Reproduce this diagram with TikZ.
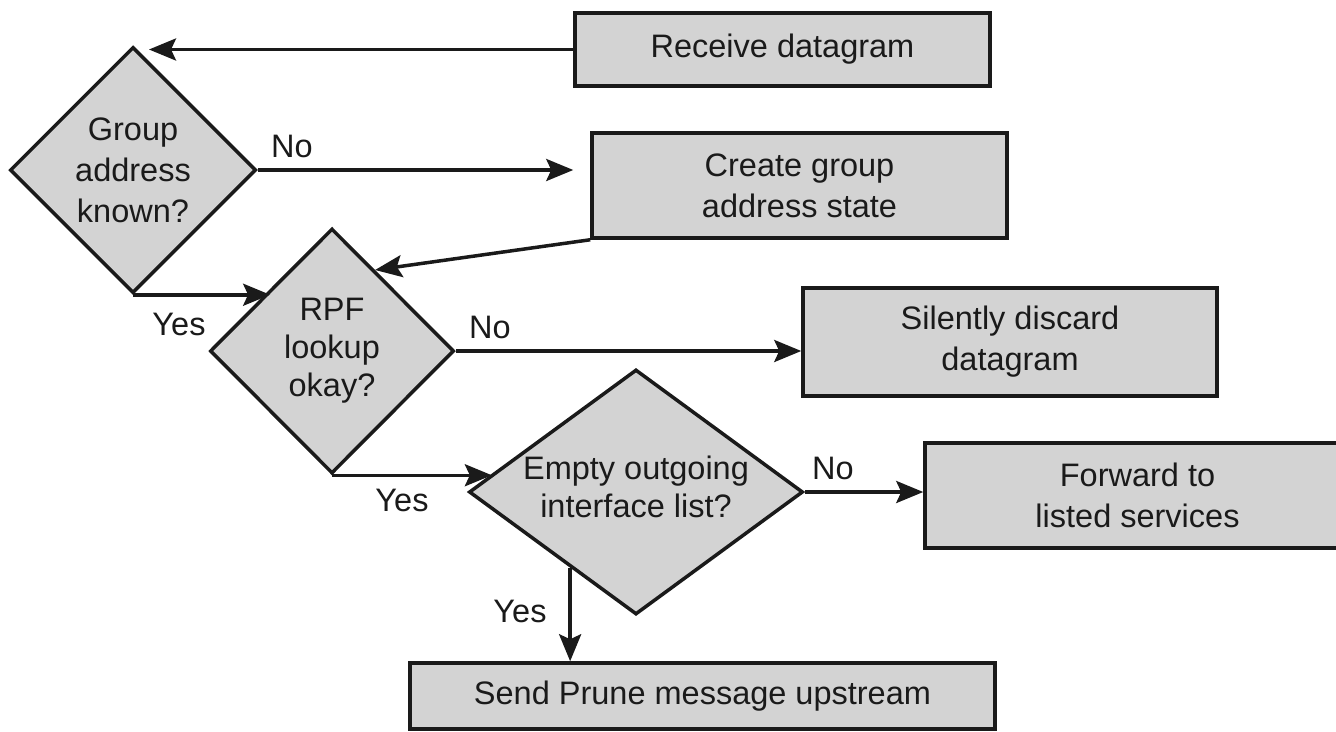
\documentclass[tikz,border=0pt]{standalone}
\usepackage{fontspec}
\setmainfont{Liberation Sans}
\usetikzlibrary{shapes.geometric,arrows.meta}

\definecolor{boxfill}{RGB}{211,211,211}
\definecolor{ink}{RGB}{26,26,26}

\tikzset{
  every node/.style={text=ink, font=\fontsize{32.5}{41}\selectfont},
  stepbox/.style={draw=ink, fill=boxfill, line width=3.5pt, rectangle,
    inner sep=0pt, align=center},
  decision/.style={draw=ink, fill=boxfill, line width=3.5pt, diamond,
    inner sep=0pt},
  qtext/.style={align=center, inner sep=0pt},
  lbl/.style={inner sep=0pt},
  arr/.style={draw=ink, line width=3.5pt,
    -{Stealth[length=27pt,width=22pt,inset=5pt]}},
}

\begin{document}
\begin{tikzpicture}[x=1pt,y=-1pt]
  \useasboundingbox[fill=white] (0,0) rectangle (1336,731);

  % process boxes
  \node[stepbox, minimum width=415pt, minimum height=73pt]  (recv)    at (782.5,49.5)  {Receive datagram};
  \node[stepbox, minimum width=415pt, minimum height=105pt] (create)  at (799.5,185.5) {Create group\\address state};
  \node[stepbox, minimum width=414pt, minimum height=108pt] (discard) at (1010,342)    {Silently discard\\datagram};
  \node[stepbox, minimum width=425pt, minimum height=105pt] (fwd)     at (1137.5,495.5){Forward to\\listed services};
  \node[stepbox, minimum width=585pt, minimum height=66pt]  (prune)   at (702.5,696)   {Send Prune message upstream};

  % decisions
  \node[decision, minimum width=246pt, minimum height=246pt] (grp) at (133,170) {};
  \node[qtext] (grpt) at (grp) {Group\\address\\known?};
  \node[decision, minimum width=244pt, minimum height=245pt] (rpf) at (332,351) {};
  \node[qtext, font=\fontsize{32.5}{38}\selectfont] (rpft) at (rpf) {RPF\\lookup\\okay?};
  \node[decision, minimum width=334pt, minimum height=245pt] (emp) at (636,492) {};
  \node[qtext, font=\fontsize{32.5}{38}\selectfont] (empt) at ([yshift=5pt]emp) {Empty outgoing\\interface list?};

  % connectors
  \draw[arr] (recv.west) -- ([xshift=16pt]grp.north |- recv.west);
  \draw[arr] (grp.east) -- ([xshift=-17pt]create.west |- grp.east);
  \draw[arr] (grp.south) -- (grp.south -| rpf.north west);
  \draw[arr] (create.south west) -- (rpf.62);
  \draw[arr] (rpf.east) -- (rpf.east -| discard.west);
  \draw[arr] (rpf.south) -- ([xshift=-8pt]rpf.south -| emp.170);
  \draw[arr] (emp.east) -- (emp.east -| fwd.west);
  \draw[arr] (emp.229) -- (emp.229 |- prune.north);

  % branch labels
  \node[lbl] (no1)  at (292,146) {No};
  \node[lbl] (yes1) at (179,324) {Yes};
  \node[lbl] (no2)  at (490,327) {No};
  \node[lbl] (yes2) at (402,500) {Yes};
  \node[lbl] (no3)  at (833,468) {No};
  \node[lbl] (yes3) at (520,611) {Yes};
\end{tikzpicture}
\end{document}
